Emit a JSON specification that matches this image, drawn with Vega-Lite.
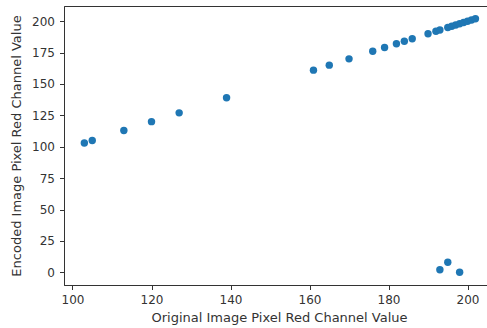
{
  "$schema": "https://vega.github.io/schema/vega-lite/v6.json",
  "autosize": "none",
  "width": 430,
  "height": 279,
  "padding": {"left": 64, "top": 6, "right": 0, "bottom": 43},
  "background": "white",
  "config": {
    "view": {"stroke": "#333333", "strokeWidth": 1},
    "font": "DejaVu Sans",
    "axis": {
      "grid": false,
      "domainColor": "#333333",
      "tickColor": "#333333",
      "tickSize": 4.5,
      "labelFont": "DejaVu Sans",
      "labelFontSize": 12,
      "labelColor": "#333333",
      "labelPadding": 5,
      "titleFont": "DejaVu Sans",
      "titleFontSize": 13,
      "titleFontWeight": "normal",
      "titleColor": "#333333"
    }
  },
  "data": {
    "values": [
      {"original": 103, "encoded": 103},
      {"original": 105, "encoded": 105},
      {"original": 113, "encoded": 113},
      {"original": 120, "encoded": 120},
      {"original": 127, "encoded": 127},
      {"original": 139, "encoded": 139},
      {"original": 161, "encoded": 161},
      {"original": 165, "encoded": 165},
      {"original": 170, "encoded": 170},
      {"original": 176, "encoded": 176},
      {"original": 179, "encoded": 179},
      {"original": 182, "encoded": 182},
      {"original": 184, "encoded": 184},
      {"original": 186, "encoded": 186},
      {"original": 190, "encoded": 190},
      {"original": 192, "encoded": 192},
      {"original": 193, "encoded": 193},
      {"original": 195, "encoded": 195},
      {"original": 196, "encoded": 196},
      {"original": 197, "encoded": 197},
      {"original": 198, "encoded": 198},
      {"original": 199, "encoded": 199},
      {"original": 200, "encoded": 200},
      {"original": 201, "encoded": 201},
      {"original": 202, "encoded": 202},
      {"original": 193, "encoded": 2},
      {"original": 195, "encoded": 8},
      {"original": 198, "encoded": 0}
    ]
  },
  "mark": {"type": "point", "filled": true, "opacity": 1, "size": 55, "color": "#1f77b4"},
  "encoding": {
    "x": {
      "field": "original",
      "type": "quantitative",
      "scale": {"domain": [97.85, 206.7], "nice": false, "zero": false},
      "axis": {"values": [100, 120, 140, 160, 180, 200], "title": "Original Image Pixel Red Channel Value", "titlePadding": 6}
    },
    "y": {
      "field": "encoded",
      "type": "quantitative",
      "scale": {"domain": [-10.1, 212.1], "nice": false, "zero": false},
      "axis": {"values": [0, 25, 50, 75, 100, 125, 150, 175, 200], "title": "Encoded Image Pixel Red Channel Value", "titlePadding": 8}
    }
  }
}
